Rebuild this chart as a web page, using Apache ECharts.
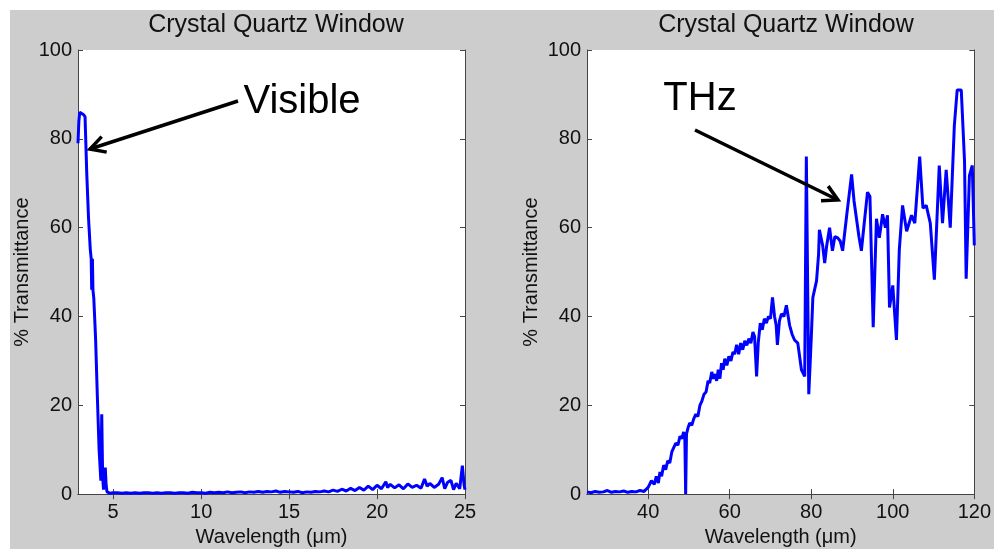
<!DOCTYPE html>
<html>
<head>
<meta charset="utf-8">
<script src="https://cdn.jsdelivr.net/npm/echarts@6/dist/echarts.min.js"></script>
<style>
  html, body { margin: 0; padding: 0; background: #fff; }
  #main { width: 994px; height: 552px; }
</style>
</head>
<body>
<div id="main"></div>
<script>
// left panel: visible / near IR
var leftWavelength = [3.0, 3.05, 3.1, 3.2, 3.3, 3.4, 3.5, 3.6, 3.7, 3.75, 3.78, 3.82, 3.85, 3.9, 4.0, 4.1, 4.2, 4.3, 4.35, 4.4, 4.45, 4.5, 4.55, 4.6, 4.65, 4.7, 4.8, 5.0,
  5.25, 5.5, 5.75, 6, 6.25, 6.5, 6.75, 7, 7.25, 7.5, 7.75, 8, 8.25, 8.5, 8.75, 9, 9.25, 9.5, 9.75, 10,
  10.25, 10.5, 10.75, 11, 11.25, 11.5, 11.75, 12, 12.25, 12.5, 12.75, 13, 13.25, 13.5, 13.75, 14, 14.25, 14.5, 14.75, 15,
  15.25, 15.5, 15.75, 16, 16.25, 16.5, 16.75, 17, 17.25, 17.5, 17.75, 18, 18.25, 18.5, 18.75, 19, 19.25, 19.5, 19.75, 20,
  20.25, 20.5, 20.6, 20.75, 21, 21.25, 21.5, 21.75, 22, 22.25, 22.5, 22.7, 22.85, 23, 23.25, 23.5, 23.7, 23.85, 24, 24.2, 24.35, 24.5, 24.7, 24.85, 24.95, 25];
var leftTransmittance = [79, 84, 86, 86, 85.5, 85, 72, 62, 55, 53, 46, 53, 46, 44, 35, 22, 10, 3, 18, 4, 1, 1, 6, 2, 0.5, 0.5, 0.2, 0.3,
  0.3, 0.2, 0.3, 0.2, 0.3, 0.2, 0.3, 0.3, 0.2, 0.3, 0.2, 0.3, 0.3, 0.2, 0.3, 0.3, 0.2, 0.4, 0.3, 0.3,
  0.2, 0.4, 0.3, 0.4, 0.3, 0.5, 0.3, 0.4, 0.5, 0.3, 0.5, 0.4, 0.6, 0.4, 0.6, 0.5, 0.7, 0.4, 0.6, 0.5,
  0.4, 0.6, 0.3, 0.5, 0.4, 0.6, 0.5, 0.7, 0.5, 0.9, 0.6, 1.1, 0.7, 1.3, 0.8, 1.5, 0.9, 1.8, 1.0, 2.0,
  1.2, 2.8, 1.5, 2.2, 1.4, 2.1, 1.2, 2.3, 1.5, 2.0, 1.3, 3.4, 1.8, 2.4, 1.5, 2.2, 3.7, 1.2, 2.6, 3.1, 1.0, 2.4, 1.2, 6.4, 2.0, 1.0];

// right panel: THz
var rightWavelength = [25, 26, 27, 28, 29, 30, 31, 32, 33, 34, 35, 36, 37, 38, 39, 40, 40.8, 41.5, 42, 42.5, 42.9, 43.3, 43.8, 44.3, 44.8,
  45.3, 45.8, 46.3, 46.8, 47.3, 47.8, 48.3, 48.7, 49, 49.2, 49.4, 49.8, 50.2, 50.7, 51.2, 51.7, 52.2, 52.7, 53.2, 53.7, 54.2, 54.7,
  55.1, 55.6, 56, 56.5, 56.8, 57.2, 57.6, 58, 58.4, 58.8, 59.3, 59.8, 60.3, 60.8, 61.2, 61.7, 62.2, 62.7, 63.2, 63.7, 64.2, 64.7,
  65.2, 65.7, 66.1, 66.6, 67, 67.5, 68, 68.5, 69, 69.5, 70, 70.5, 71, 71.4, 71.7, 72.2,
  72.7, 73.3, 73.9, 74.7, 75.3, 75.9, 76.7, 77.6, 78.4, 78.8, 79.4, 80, 80.4, 81.3, 81.8, 82,
  82.8, 83.3, 83.8, 84.5, 85.2, 85.8, 86.5, 87.1, 87.7, 88.7, 89.9, 90.5, 91.1, 91.7, 92.3, 93, 93.8, 94.4, 94.8, 95.2, 95.6, 96,
  96.7, 97.5, 98.2, 98.7, 99.2, 100, 100.9, 101.6, 102.4, 103.4, 104.6, 105.4, 106.6, 107.4, 108.2, 109.2, 110.2, 111.4, 112.2,
  113.1, 114.1, 115.1, 115.8, 116.8, 117.6, 118, 118.8, 119.5, 120];
var rightTransmittance = [0.5, 0.3, 0.6, 0.4, 0.5, 0.8, 0.4, 0.6, 0.5, 0.7, 0.4, 0.6, 0.5, 0.8, 0.6, 1.5, 3, 2.2, 4, 2.5, 5, 4, 6.5, 5.5, 7.5,
  7, 9.5, 10.5, 11.5, 11, 13, 12.5, 14, 12.5, 0, 13.5, 15, 16, 15.5, 17, 18, 17.5, 20, 21, 22.5, 23, 25.5,
  25, 27.5, 26, 27, 25.5, 28, 26, 29.5, 28, 30.5, 29, 31, 30, 32, 31.5, 33.6, 31.5, 34, 32.5, 34.5, 33.5, 35,
  34, 36.5, 35.5, 26.5, 34, 38.5, 37, 39.5, 38.5, 40, 39.5, 44.3, 40, 38, 33.6, 39,
  40.6, 40, 42.5, 38, 36, 34.7, 34, 28, 26.5, 76, 22.5, 35, 44.3, 48, 54, 59.5,
  56, 52, 56, 60, 54.8, 58, 57.7, 57, 54.8, 62.8, 72, 66, 62, 58, 54.8, 61, 68, 67, 66.6, 37.6, 50, 62,
  57.7, 63, 60, 62.8, 42, 47, 34.7, 55, 65, 59.2, 62.8, 61, 76, 64.4, 65, 61, 48.3, 74, 61,
  73, 60, 83, 91, 91, 75, 48.5, 71.7, 74, 56];

var leftTicks = [5, 10, 15, 20, 25];
var rightTicks = [40, 60, 80, 100, 120];
var panelTitle = 'Crystal Quartz Window';

function pairs(xs, ys) {
  return xs.map(function (x, i) { return [x, ys[i]]; });
}

var font = 'Liberation Sans, Arial, sans-serif';
var axisColor = '#444';

function bottomAxis(grid, min, max, ticks) {
  return {
    type: 'value', gridIndex: grid, position: 'bottom', min: min, max: max,
    name: 'Wavelength (μm)', nameLocation: 'middle', nameGap: 30,
    nameTextStyle: { fontFamily: font, fontSize: 20, color: '#111' },
    axisLine: { lineStyle: { color: axisColor } },
    axisTick: { inside: true, length: 5, customValues: ticks, lineStyle: { color: axisColor } },
    axisLabel: { customValues: ticks, fontFamily: font, fontSize: 20, color: '#111', margin: 8 },
    splitLine: { show: false }
  };
}
function topAxis(grid, min, max, ticks) {
  return {
    type: 'value', gridIndex: grid, position: 'top', min: min, max: max,
    axisLine: { lineStyle: { color: axisColor } },
    axisTick: { inside: true, length: 5, customValues: ticks, lineStyle: { color: axisColor } },
    axisLabel: { show: false },
    splitLine: { show: false }
  };
}
function leftAxis(grid) {
  return {
    type: 'value', gridIndex: grid, position: 'left', min: 0, max: 100, interval: 20,
    name: '% Transmittance', nameLocation: 'middle', nameGap: 46, nameRotate: 90,
    nameTextStyle: { fontFamily: font, fontSize: 20, color: '#111' },
    axisLine: { show: true, lineStyle: { color: axisColor } },
    axisTick: { show: true, inside: true, length: 5, lineStyle: { color: axisColor } },
    axisLabel: { fontFamily: font, fontSize: 20, color: '#111', margin: 6 },
    splitLine: { show: false }
  };
}
function rightAxis(grid) {
  return {
    type: 'value', gridIndex: grid, position: 'right', min: 0, max: 100, interval: 20,
    axisLine: { show: true, lineStyle: { color: axisColor } },
    axisTick: { show: true, inside: true, length: 5, lineStyle: { color: axisColor } },
    axisLabel: { show: false },
    splitLine: { show: false }
  };
}

// annotation arrow: shaft + open head
function arrow(x1, y1, x2, y2) {
  var ang = Math.atan2(y2 - y1, x2 - x1);
  var len = 17, spread = 0.5;
  var a1 = [x2 - len * Math.cos(ang - spread), y2 - len * Math.sin(ang - spread)];
  var a2 = [x2 - len * Math.cos(ang + spread), y2 - len * Math.sin(ang + spread)];
  return [
    { type: 'line', z: 100, shape: { x1: x1, y1: y1, x2: x2, y2: y2 }, style: { stroke: '#000', lineWidth: 3.5 } },
    { type: 'polyline', z: 100, shape: { points: [a1, [x2, y2], a2] }, style: { stroke: '#000', lineWidth: 3.5, fill: null } }
  ];
}

var myChart = echarts.init(document.getElementById('main'), null, { renderer: 'canvas' });

var option = {
  animation: false,
  backgroundColor: '#fff',
  title: [
    { text: panelTitle, left: 271, top: 8, textAlign: 'center', textStyle: { fontFamily: font, fontSize: 25, fontWeight: 'normal', color: '#111' } },
    { text: panelTitle, left: 781, top: 8, textAlign: 'center', textStyle: { fontFamily: font, fontSize: 25, fontWeight: 'normal', color: '#111' } }
  ],
  grid: [
    { left: 78, top: 50, width: 387, height: 449, show: true, backgroundColor: '#fff', borderWidth: 0 },
    { left: 587, top: 50, width: 388, height: 449, show: true, backgroundColor: '#fff', borderWidth: 0 }
  ],
  xAxis: [
    bottomAxis(0, 3, 25, leftTicks), topAxis(0, 3, 25, leftTicks),
    bottomAxis(1, 25, 120, rightTicks), topAxis(1, 25, 120, rightTicks)
  ],
  yAxis: [leftAxis(0), rightAxis(0), leftAxis(1), rightAxis(1)],
  series: [
    {
      type: 'line', xAxisIndex: 0, yAxisIndex: 0, data: pairs(leftWavelength, leftTransmittance),
      showSymbol: false, clip: true, lineStyle: { color: '#0000ff', width: 3 }
    },
    {
      type: 'line', xAxisIndex: 2, yAxisIndex: 2, data: pairs(rightWavelength, rightTransmittance),
      showSymbol: false, clip: true, lineStyle: { color: '#0000ff', width: 3 }
    }
  ],
  graphic: [
    { type: 'rect', z: -10, silent: true, shape: { x: 10, y: 10, width: 984, height: 539 }, style: { fill: '#cdcdcd' } },
    { type: 'text', z: 100, x: 302, y: 102, style: { text: 'Visible', font: '40px ' + font, fill: '#000', align: 'center', verticalAlign: 'middle' } },
    { type: 'text', z: 100, x: 700, y: 99, style: { text: 'THz', font: '40px ' + font, fill: '#000', align: 'center', verticalAlign: 'middle' } }
  ].concat(arrow(238, 101, 90, 149), arrow(695, 130, 838, 200))
};

myChart.setOption(option);
</script>
</body>
</html>
